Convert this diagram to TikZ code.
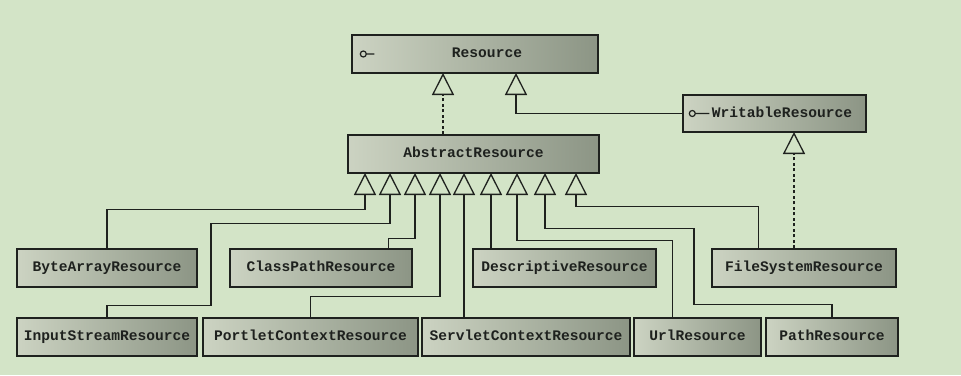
\documentclass[tikz,border=0pt]{standalone}
\usepackage{fontspec}
\setmonofont{Liberation Mono}
\usepackage{tikz}
\usetikzlibrary{arrows.meta,calc}
\definecolor{bgcol}{RGB}{211,228,199}
\definecolor{boxl}{RGB}{204,211,194}
\definecolor{boxr}{RGB}{140,149,133}
\definecolor{ink}{RGB}{30,33,30}

\begin{document}
\begin{tikzpicture}[x=1pt,y=-1pt,
  cls/.style={draw=ink, line width=1.4pt, left color=boxl, right color=boxr,
    minimum height=38pt, inner sep=0pt, text=ink,
    text height=10.5pt, text depth=3pt,
    font=\ttfamily\bfseries\fontsize{14.6}{16}\selectfont},
  inh/.style={draw=ink, line width=1.3pt,
    -{Triangle[open,length=22pt,width=22pt]}},
  impl/.style={inh, dash pattern=on 3pt off 2.5pt},
  iface/.style={draw=ink, line width=1.2pt}]
\fill[bgcol] (0,0) rectangle (961,375);
\useasboundingbox (0,0) rectangle (961,375);

% interfaces and the abstract base
\node[cls, minimum width=246pt] (res) at (475,54) {\hspace*{24pt}Resource};
\node[cls, minimum width=183pt, minimum height=37pt] (wr) at (774.5,113.5) {\hspace*{15pt}WritableResource};
\node[cls, minimum width=251pt] (abs) at (473.5,154) {AbstractResource};
\draw[iface] ($(res.west)+(12,0)$) circle (3pt) ++(3,0) -- ++(8,0);
\draw[iface] ($(wr.west)+(10,0)$) circle (3pt) ++(3,0) -- ++(14,0);

% implementations
\node[cls, minimum width=180pt] (byte) at (107,268) {ByteArrayResource};
\node[cls, minimum width=182pt] (cp) at (321,268) {ClassPathResource};
\node[cls, minimum width=183pt] (desc) at (564.5,268) {DescriptiveResource};
\node[cls, minimum width=184pt] (fs) at (804,268) {FileSystemResource};
\node[cls, minimum width=180pt] (is) at (107,337) {InputStreamResource};
\node[cls, minimum width=215pt] (pc) at (310.5,337) {PortletContextResource};
\node[cls, minimum width=208pt] (sc) at (526,337) {ServletContextResource};
\node[cls, minimum width=127pt] (url) at (697.5,337) {UrlResource};
\node[cls, minimum width=132pt] (path) at (832,337) {PathResource};

% arrow tips
\foreach \x [count=\i] in {365,390,415,440,464,491,517,545,576}
  \coordinate (t\i) at (\x,173);
\coordinate (r1) at (443,73);
\coordinate (r2) at (516,73);
\coordinate (w1) at (794,132);

\draw[impl] (abs.north -| r1) -- (r1);
\draw[inh] (wr.west) -| (r2);
\draw[impl] (fs.north -| w1) -- (w1);

\draw[inh] (byte.north) -- ++(0,-39) -| (t1);
\draw[inh] (is.north) -- ++(0,-12) -| ++(104,-82) -| (t2);
\draw[inh] ($(cp.north east)+(-24,0)$) -- ++(0,-10) -| (t3);
\draw[inh] (pc.north) -- ++(0,-21) -| (t4);
\draw[inh] (sc.north -| t5) -- (t5);
\draw[inh] (desc.north -| t6) -- (t6);
\draw[inh] ($(url.north west)+(39,0)$) -- ++(0,-77) -| (t7);
\draw[inh] (path.north) -- ++(0,-13) -| ++(-138,-76) -| (t8);
\draw[inh] ($(fs.north west)+(47,0)$) -- ++(0,-42) -| (t9);
\end{tikzpicture}
\end{document}
